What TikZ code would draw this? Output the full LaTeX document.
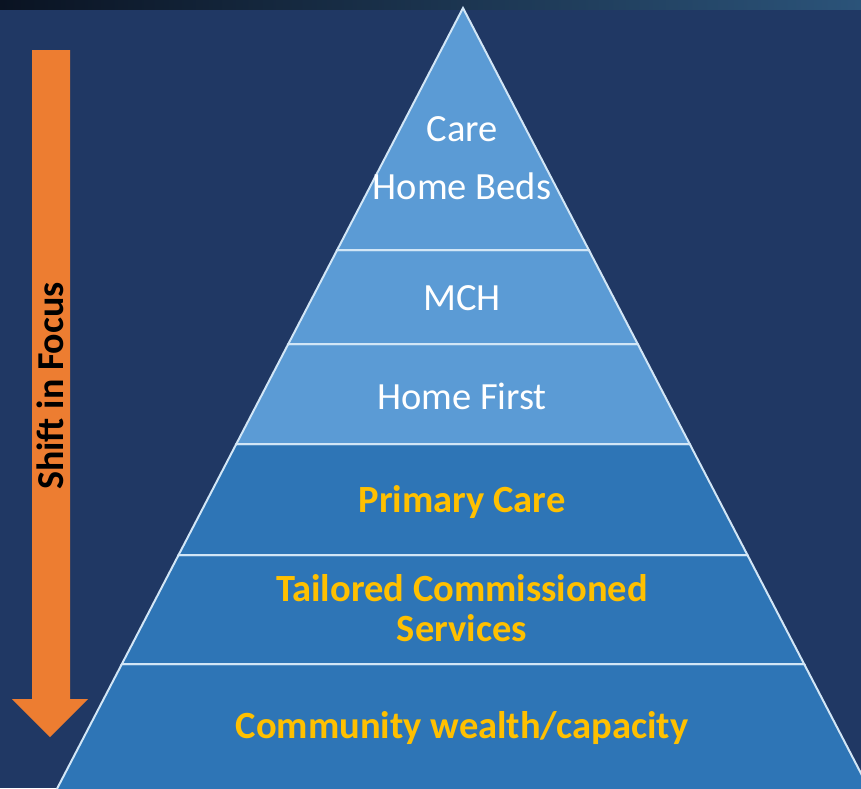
\documentclass[tikz,border=0pt]{standalone}
\usepackage{fontspec}
\setmainfont{Carlito}
\definecolor{bgblue}{HTML}{203864}
\definecolor{lighttier}{HTML}{5B9BD5}
\definecolor{darktier}{HTML}{2E75B6}
\definecolor{edgeline}{HTML}{D2E6F6}
\definecolor{arrowor}{HTML}{ED7D31}
\definecolor{goldtxt}{HTML}{FFC000}
\definecolor{stripl}{HTML}{0A1322}
\definecolor{stripr}{HTML}{2B5379}
\tikzset{
  tierlight/.style={fill=lighttier, draw=edgeline, line width=2pt, line join=miter},
  tierdark/.style={fill=darktier, draw=edgeline, line width=2pt, line join=miter},
  lbl/.style={inner sep=0pt, anchor=base, font=\fontsize{38.5}{46}\selectfont, text=white},
  boldlbl/.style={inner sep=0pt, anchor=base, font=\fontsize{38.5}{46}\selectfont\bfseries, text=goldtxt},
  arrowlbl/.style={inner sep=0pt, anchor=base, rotate=90, font=\fontsize{38}{46}\selectfont\bfseries, text=black}
}
\begin{document}
\begin{tikzpicture}[x=1pt,y=-1pt]
\useasboundingbox (0,0) rectangle (861,788);
\clip (0,0) rectangle (861,788);
\fill[bgblue] (0,0) rectangle (861,788);
\shade[left color=stripl, right color=stripr] (0,0) rectangle (861,9);
% pyramid tiers
\coordinate (apex) at (463,8);
\coordinate (l1) at (337.16,250); \coordinate (r1) at (588.84,250);
\coordinate (l2) at (288.28,344); \coordinate (r2) at (637.72,344);
\coordinate (l3) at (236.28,444); \coordinate (r3) at (689.72,444);
\coordinate (l4) at (178.56,555); \coordinate (r4) at (747.44,555);
\coordinate (l5) at (121.88,664); \coordinate (r5) at (804.12,664);
\coordinate (l6) at (51.16,800);  \coordinate (r6) at (874.84,800);
\draw[tierdark] (l5) -- (r5) -- (r6) -- (l6) -- cycle;
\draw[tierdark] (l4) -- (r4) -- (r5) -- (l5) -- cycle;
\draw[tierdark] (l3) -- (r3) -- (r4) -- (l4) -- cycle;
\draw[tierlight] (l2) -- (r2) -- (r3) -- (l3) -- cycle;
\draw[tierlight] (l1) -- (r1) -- (r2) -- (l2) -- cycle;
\draw[tierlight] (apex) -- (r1) -- (l1) -- cycle;
% labels
\node[lbl] (care) at (462,141) {Care};
\node[lbl] (beds) at (462,199) {Home Beds};
\node[lbl] (mch) at (462,310) {MCH};
\node[lbl] (first) at (462,409) {Home First};
\node[boldlbl] (primary) at (462,512) {Primary Care};
\node[boldlbl] (tailored) at (462,601) {Tailored Commissioned};
\node[boldlbl] (services) at (462,641) {Services};
\node[boldlbl] (community) at (462,738) {Community wealth/capacity};
% arrow
\fill[arrowor] (32,50) -- (70,50) -- (70,699) -- (88,699) -- (50,737) -- (12,699) -- (32,699) -- cycle;
\node[arrowlbl] (shift) at (63,386) {Shift in Focus};
\end{tikzpicture}
\end{document}
